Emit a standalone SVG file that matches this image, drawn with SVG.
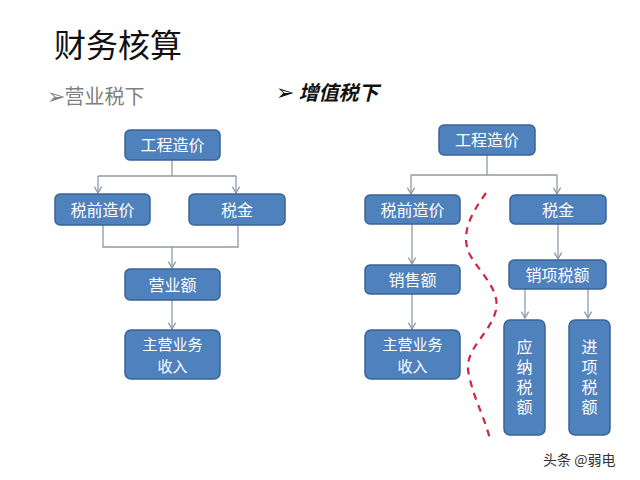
<svg xmlns="http://www.w3.org/2000/svg" width="640" height="480" viewBox="0 0 640 480">
<style>
.box{fill:#4f81bd;stroke:#3a6396;stroke-width:1.5}
.t{font-family:"Noto Sans CJK SC","Noto Sans",sans-serif;font-size:16px;fill:#fff;text-anchor:middle}
.t2{font-size:15px}
.v{writing-mode:vertical-rl;letter-spacing:4px}
.c{fill:none;stroke:#8e9aa6;stroke-width:1.3}
</style>
<defs>
<marker id="ar" viewBox="0 0 10 10" refX="9" refY="5" markerWidth="9" markerHeight="9" orient="auto" markerUnits="userSpaceOnUse">
<polyline points="2,1 9,5 2,9" fill="none" stroke="#8e9aa6" stroke-width="1.5"/>
</marker>
</defs>
<rect width="640" height="480" fill="#fff"/>
<text x="54" y="57" font-family="Noto Sans CJK SC,sans-serif" font-size="32" fill="#111">财务核算</text>
<text x="47" y="104" font-family="DejaVu Sans,Noto Sans CJK SC,sans-serif" font-size="22" fill="#808080">➢<tspan font-family="Noto Sans CJK SC,sans-serif" font-size="20" dx="-1">营业税下</tspan></text>
<text x="276" y="100" font-family="DejaVu Sans,Noto Sans CJK SC,sans-serif" font-size="22" fill="#111">➢<tspan font-family="Noto Sans CJK SC,sans-serif" font-size="20" font-weight="bold" font-style="italic" dx="4">增值税下</tspan></text>

<g id="connectors">
<path class="c" d="M172,160 V176 M98,176 H236"/>
<path class="c" d="M98,176 V193" marker-end="url(#ar)"/>
<path class="c" d="M236,176 V193" marker-end="url(#ar)"/>
<path class="c" d="M103,225 V247 H238 V225"/>
<path class="c" d="M172,247 V268" marker-end="url(#ar)"/>
<path class="c" d="M172,300 V329" marker-end="url(#ar)"/>
<path class="c" d="M487,155 V175 M411,175 H557"/>
<path class="c" d="M411,175 V194" marker-end="url(#ar)"/>
<path class="c" d="M557,175 V194" marker-end="url(#ar)"/>
<path class="c" d="M412,224 V264" marker-end="url(#ar)"/>
<path class="c" d="M412,294 V329" marker-end="url(#ar)"/>
<path class="c" d="M558,224 V259" marker-end="url(#ar)"/>
<path class="c" d="M525,289 V318" marker-end="url(#ar)"/>
<path class="c" d="M588,289 V318" marker-end="url(#ar)"/>
<path d="M486,193 C470,215 460,235 470,255 C482,275 500,290 496,310 C490,335 462,350 469,375 C474,400 486,420 490,440" fill="none" stroke="#d0263a" stroke-width="2.2" stroke-dasharray="7,6"/>
</g>

<g id="l_gczj"><rect class="box" x="125" y="130" width="95" height="30" rx="5"/><text class="t" x="172.5" y="151">工程造价</text></g>
<g id="l_sqzj"><rect class="box" x="55" y="194" width="95" height="31" rx="5"/><text class="t" x="102.5" y="215.5">税前造价</text></g>
<g id="l_sj"><rect class="box" x="189" y="194" width="96" height="31" rx="5"/><text class="t" x="237" y="215.5">税金</text></g>
<g id="l_yye"><rect class="box" x="125" y="269" width="95" height="31" rx="5"/><text class="t" x="172.5" y="290.5">营业额</text></g>
<g id="l_zyyw"><rect class="box" x="125" y="330" width="95" height="49" rx="6"/><text class="t t2" x="172.5" y="350">主营业务</text><text class="t t2" x="172.5" y="372">收入</text></g>

<g id="r_gczj"><rect class="box" x="439" y="125" width="96" height="30" rx="5"/><text class="t" x="487" y="146">工程造价</text></g>
<g id="r_sqzj"><rect class="box" x="365" y="195" width="95" height="29" rx="5"/><text class="t" x="412.5" y="215.5">税前造价</text></g>
<g id="r_sj"><rect class="box" x="510" y="195" width="96" height="29" rx="5"/><text class="t" x="558" y="215.5">税金</text></g>
<g id="r_xse"><rect class="box" x="365" y="265" width="95" height="29" rx="5"/><text class="t" x="412.5" y="285.5">销售额</text></g>
<g id="r_zyyw"><rect class="box" x="365" y="330" width="95" height="49" rx="6"/><text class="t t2" x="412.5" y="350">主营业务</text><text class="t t2" x="412.5" y="372">收入</text></g>
<g id="r_xxse"><rect class="box" x="509" y="260" width="97" height="29" rx="5"/><text class="t" x="557.5" y="280.5">销项税额</text></g>
<g id="r_ynse"><rect class="box" x="504" y="320" width="41" height="115" rx="6"/><text class="t v" x="524.5" y="379">应纳税额</text></g>
<g id="r_jxse"><rect class="box" x="569" y="320" width="41" height="115" rx="6"/><text class="t v" x="589.5" y="379">进项税额</text></g>

<text x="543" y="465" font-family="Noto Sans CJK SC,sans-serif" font-size="14" fill="#333">头条 @弱电</text>
</svg>
